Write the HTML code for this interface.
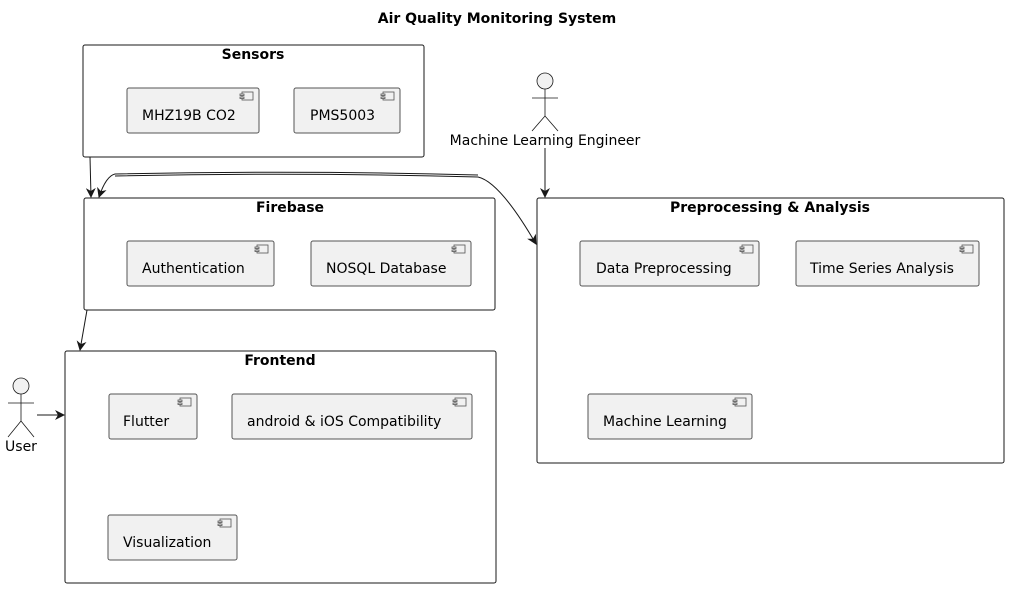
<!DOCTYPE html>
<html><head><style>body{margin:0;background:#fff}svg{display:block}text{font-family:"DejaVu Sans","Liberation Sans",sans-serif}</style></head><body>
<svg width="1009" height="589" viewBox="0 0 1009 589" xmlns="http://www.w3.org/2000/svg">
<defs>
<marker id="ah" markerWidth="10" markerHeight="10" refX="9" refY="5" orient="auto" markerUnits="userSpaceOnUse"><path d="M0,0 L10,5 L0,10 L3,5 Z" fill="#181818"/></marker>
</defs>
<text x="497" y="23" text-anchor="middle" font-size="14" font-weight="bold">Air Quality Monitoring System</text>
<g fill="none" stroke="#181818" stroke-width="1">
<rect x="83" y="45" width="341" height="112" rx="2"/>
<rect x="84" y="198" width="411" height="112" rx="2"/>
<rect x="537" y="198" width="467" height="265" rx="2"/>
<rect x="65" y="351" width="431" height="232" rx="2"/>
</g>
<g font-size="14" font-weight="bold" text-anchor="middle">
<text x="253" y="59">Sensors</text>
<text x="290" y="212">Firebase</text>
<text x="770" y="212">Preprocessing &amp; Analysis</text>
<text x="280" y="365">Frontend</text>
</g>
<g font-size="14">
<rect x="127" y="88" width="132" height="45" rx="2" fill="#f1f1f1" stroke="#555"/><text x="142" y="120">MHZ19B CO2</text>
<rect x="294" y="88" width="106" height="45" rx="2" fill="#f1f1f1" stroke="#555"/><text x="310" y="120">PMS5003</text>
<rect x="127" y="241" width="147" height="45" rx="2" fill="#f1f1f1" stroke="#555"/><text x="142" y="273">Authentication</text>
<rect x="311" y="241" width="160" height="45" rx="2" fill="#f1f1f1" stroke="#555"/><text x="326" y="273">NOSQL Database</text>
<rect x="580" y="241" width="179" height="45" rx="2" fill="#f1f1f1" stroke="#555"/><text x="596" y="273">Data Preprocessing</text>
<rect x="796" y="241" width="183" height="45" rx="2" fill="#f1f1f1" stroke="#555"/><text x="810" y="273">Time Series Analysis</text>
<rect x="588" y="394" width="164" height="45" rx="2" fill="#f1f1f1" stroke="#555"/><text x="603" y="426">Machine Learning</text>
<rect x="109" y="394" width="88" height="45" rx="2" fill="#f1f1f1" stroke="#555"/><text x="123" y="426">Flutter</text>
<rect x="232" y="394" width="240" height="45" rx="2" fill="#f1f1f1" stroke="#555"/><text x="247" y="426">android &amp; iOS Compatibility</text>
<rect x="108" y="515" width="129" height="45" rx="2" fill="#f1f1f1" stroke="#555"/><text x="123" y="547">Visualization</text>
</g>
<g fill="#f1f1f1" stroke="#555" stroke-width="0.8">
<g transform="translate(259,88)"><rect x="-17" y="4" width="11" height="8"/><rect x="-19" y="6" width="4" height="1.5"/><rect x="-19" y="9" width="4" height="1.5"/></g>
<g transform="translate(400,88)"><rect x="-17" y="4" width="11" height="8"/><rect x="-19" y="6" width="4" height="1.5"/><rect x="-19" y="9" width="4" height="1.5"/></g>
<g transform="translate(274,241)"><rect x="-17" y="4" width="11" height="8"/><rect x="-19" y="6" width="4" height="1.5"/><rect x="-19" y="9" width="4" height="1.5"/></g>
<g transform="translate(471,241)"><rect x="-17" y="4" width="11" height="8"/><rect x="-19" y="6" width="4" height="1.5"/><rect x="-19" y="9" width="4" height="1.5"/></g>
<g transform="translate(759,241)"><rect x="-17" y="4" width="11" height="8"/><rect x="-19" y="6" width="4" height="1.5"/><rect x="-19" y="9" width="4" height="1.5"/></g>
<g transform="translate(979,241)"><rect x="-17" y="4" width="11" height="8"/><rect x="-19" y="6" width="4" height="1.5"/><rect x="-19" y="9" width="4" height="1.5"/></g>
<g transform="translate(752,394)"><rect x="-17" y="4" width="11" height="8"/><rect x="-19" y="6" width="4" height="1.5"/><rect x="-19" y="9" width="4" height="1.5"/></g>
<g transform="translate(197,394)"><rect x="-17" y="4" width="11" height="8"/><rect x="-19" y="6" width="4" height="1.5"/><rect x="-19" y="9" width="4" height="1.5"/></g>
<g transform="translate(472,394)"><rect x="-17" y="4" width="11" height="8"/><rect x="-19" y="6" width="4" height="1.5"/><rect x="-19" y="9" width="4" height="1.5"/></g>
<g transform="translate(237,515)"><rect x="-17" y="4" width="11" height="8"/><rect x="-19" y="6" width="4" height="1.5"/><rect x="-19" y="9" width="4" height="1.5"/></g>
</g>
<g fill="#f1f1f1" stroke="#181818" stroke-width="0.8">
<circle cx="545" cy="81" r="8"/>
<path d="M545,89 V116 M532,98 H558 M545,116 L532,131 M545,116 L558,131" fill="none"/>
<circle cx="21" cy="386" r="8"/>
<path d="M21,394 V421 M8,403 H34 M21,421 L8,437 M21,421 L34,437" fill="none"/>
</g>
<text x="545" y="145" text-anchor="middle" font-size="14">Machine Learning Engineer</text>
<text x="21" y="451" text-anchor="middle" font-size="14">User</text>
<g fill="none" stroke="#181818" stroke-width="1" marker-end="url(#ah)">
<path d="M90,157 L91,197"/>
<path d="M545,148 L545,197"/>
<path d="M87,310 L80,350"/>
<path d="M37,415 L64,415"/>
<path d="M115,176 Q300,172 478,177 Q500,182 536,244"/>
<path d="M478,175 Q300,170 115,174 Q106,176 99,197"/>
</g>
</svg>
</body></html>
